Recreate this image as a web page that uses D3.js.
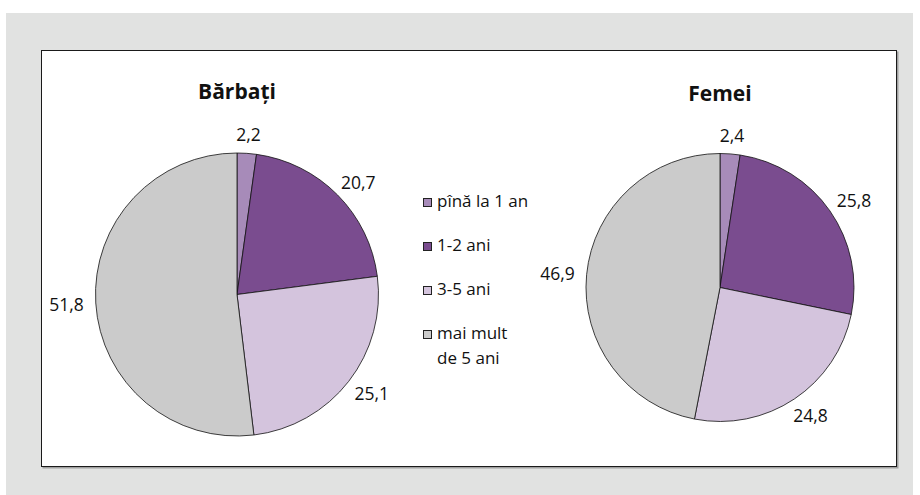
<!DOCTYPE html>
<html>
<head>
<meta charset="utf-8">
<script src="https://cdn.jsdelivr.net/npm/d3@7"></script>
<style>
  body { margin: 0; background: #ffffff; }
  svg { display: block; font-family: "Open Sans", "Lato", sans-serif; }
</style>
</head>
<body>
<div id="chart"></div>
<script>
const categories = ["pînă la 1 an", "1-2 ani", "3-5 ani", "mai mult de 5 ani"];
const legendLines = [["pînă la 1 an"], ["1-2 ani"], ["3-5 ani"], ["mai mult", "de 5 ani"]];
const colors = ["#a78bb9", "#7a4c8f", "#d4c4dd", "#cbcbcb"];
const barbatiValues = [2.2, 20.7, 25.1, 51.8];
const femeiValues = [2.4, 25.8, 24.8, 46.9];
const pieTitles = ["Bărbați", "Femei"];

const width = 920;
const height = 495;

const svg = d3.select("#chart")
  .append("svg")
  .attr("width", width)
  .attr("height", height);

// grey panel + white framed box
svg.append("rect")
  .attr("x", 6).attr("y", 13)
  .attr("width", 907).attr("height", 482)
  .attr("fill", "#e1e2e1");

svg.append("rect")
  .attr("x", 42.5).attr("y", 51.5)
  .attr("width", 856).attr("height", 417)
  .attr("fill", "#a0a0a0");

svg.append("rect")
  .attr("x", 41.5).attr("y", 50.5)
  .attr("width", 855).attr("height", 416)
  .attr("fill", "#ffffff")
  .attr("stroke", "#1a1a1a")
  .attr("stroke-width", 1);

const fmt = (v) => d3.format(".1f")(v).replace(".", ",");

const pie = d3.pie().sort(null).value((d) => d);

function drawPie(values, title, cx, cy, r, titleY) {
  const g = svg.append("g").attr("transform", `translate(${cx},${cy})`);
  const arcs = pie(values);
  const arc = d3.arc().innerRadius(0).outerRadius(r);

  g.selectAll("path")
    .data(arcs)
    .join("path")
    .attr("d", arc)
    .attr("fill", (d, i) => colors[i])
    .attr("stroke", "#111")
    .attr("stroke-width", 0.8);

  const pad = 12;
  const labels = g.selectAll("text.lbl")
    .data(arcs)
    .join("text")
    .attr("class", "lbl")
    .attr("font-size", 17.5)
    .attr("fill", "#111")
    .attr("text-anchor", "middle")
    .attr("dominant-baseline", "central")
    .text((d) => fmt(d.data));

  labels.each(function (d) {
    const bb = this.getBBox();
    const a = (d.startAngle + d.endAngle) / 2;
    const sx = Math.sin(a), cy2 = -Math.cos(a);
    const rr = r + pad;
    const x = sx * rr + sx * bb.width / 2;
    const y = cy2 * rr + cy2 * 7;
    d3.select(this).attr("x", x).attr("y", y);
  });

  svg.append("text")
    .attr("x", cx)
    .attr("y", titleY)
    .attr("text-anchor", "middle")
    .attr("font-size", 21)
    .attr("font-weight", 700)
    .attr("fill", "#111")
    .text(title);
}

drawPie(barbatiValues, pieTitles[0], 237, 294.5, 141.5, 99);
drawPie(femeiValues, pieTitles[1], 720, 287.5, 134, 101);

// legend
const legend = svg.append("g").attr("transform", "translate(423,0)");
const rowY = d3.scalePoint().domain(categories).range([207, 339]);

categories.forEach((c, i) => {
  const y = rowY(c);
  legend.append("rect")
    .attr("x", 0.5)
    .attr("y", y - 8.5)
    .attr("width", 8)
    .attr("height", 8)
    .attr("fill", colors[i])
    .attr("stroke", "#222")
    .attr("stroke-width", 1);
  legendLines[i].forEach((line, j) => {
    legend.append("text")
      .attr("x", 14)
      .attr("y", y + j * 25)
      .attr("font-size", 17)
      .attr("fill", "#111")
      .text(line);
  });
});
</script>
</body>
</html>
